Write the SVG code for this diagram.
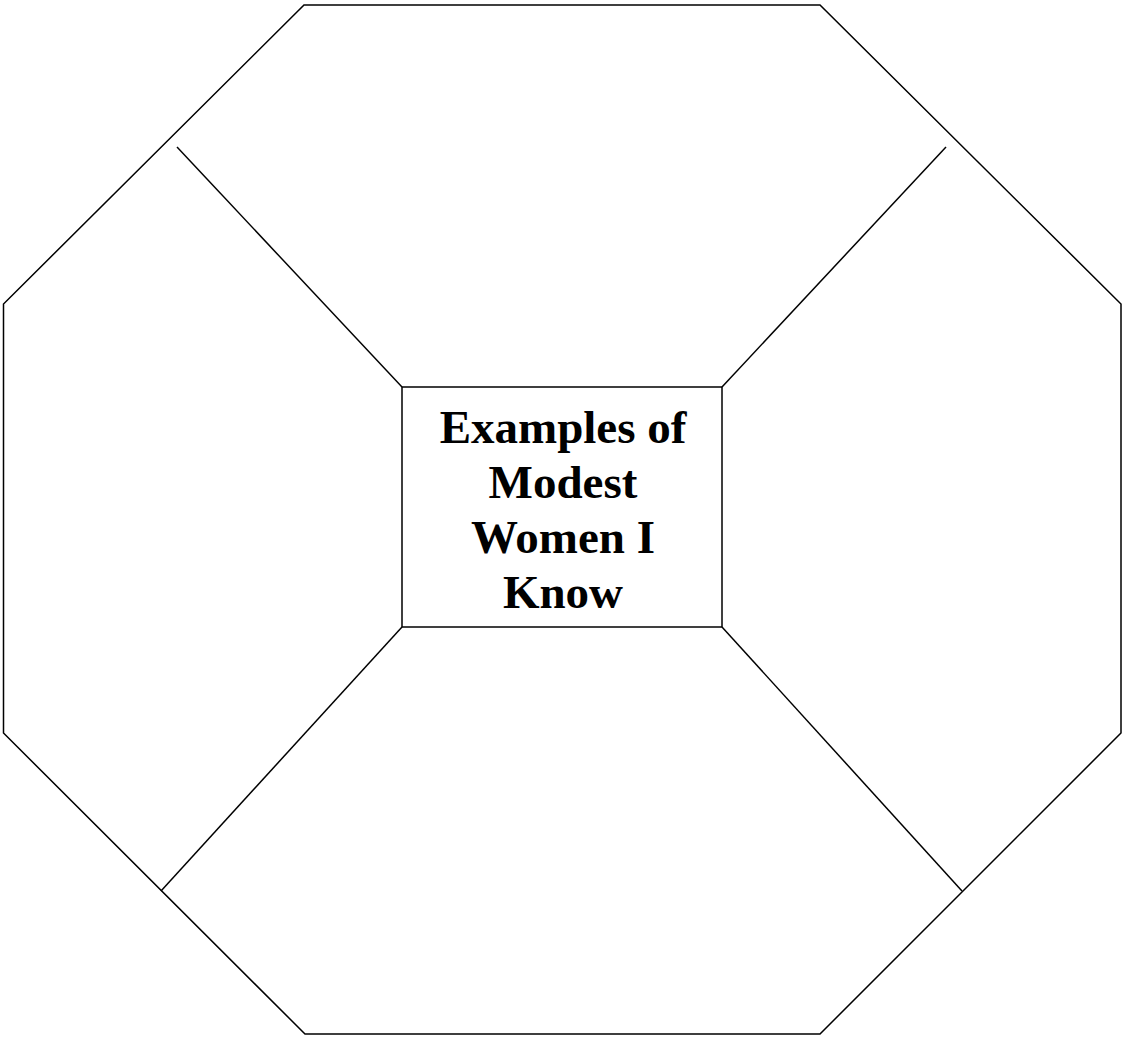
<svg xmlns="http://www.w3.org/2000/svg" width="1122" height="1037" viewBox="0 0 1122 1037">
<style>
.ln{fill:none;stroke:#000;stroke-width:1.5}
.t{font-family:"Liberation Serif",serif;font-weight:bold;font-size:47px;text-anchor:middle;fill:#000}
</style>
<rect width="1122" height="1037" fill="#fff"/>
<g id="octagon">
<polygon class="ln" points="304,5 820,5 1121,304 1121,733 820,1034 305,1034 3.5,733 3.5,304"/>
</g>
<g id="connectors">
<line class="ln" x1="177" y1="147" x2="402" y2="387"/>
<line class="ln" x1="946" y1="147" x2="722" y2="387"/>
<line class="ln" x1="402" y1="627" x2="161" y2="891"/>
<line class="ln" x1="722" y1="627" x2="962" y2="891"/>
</g>
<g id="center">
<rect class="ln" x="402" y="387" width="320" height="240"/>
<text class="t" x="563" y="443">Examples of</text>
<text class="t" x="563" y="498">Modest</text>
<text class="t" x="563" y="553">Women I</text>
<text class="t" x="563" y="608">Know</text>
</g>
</svg>
